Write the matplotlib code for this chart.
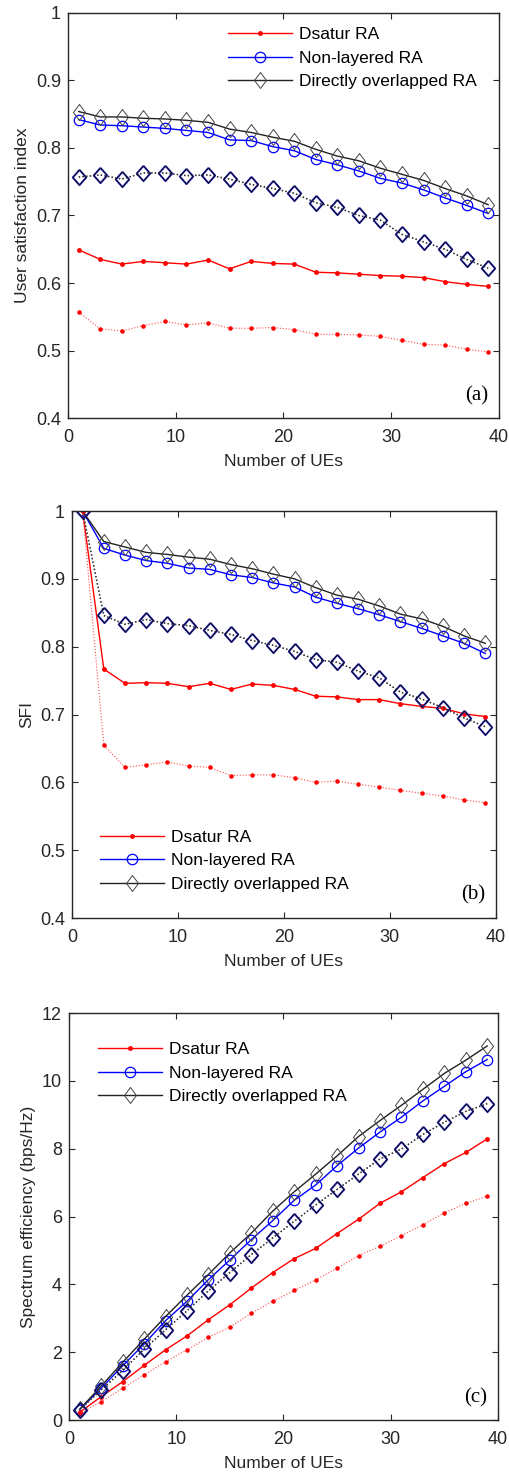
import matplotlib
matplotlib.use("Agg")
import matplotlib.pyplot as plt

plt.rcParams['font.family'] = ['Liberation Sans', 'DejaVu Sans']

ues = list(range(1, 40, 2))

# (a) user satisfaction index
usi_dsatur = [0.649, 0.635, 0.628, 0.632, 0.630, 0.628, 0.634, 0.621, 0.632, 0.629,
              0.628, 0.616, 0.615, 0.613, 0.611, 0.610, 0.608, 0.602, 0.598, 0.595]
usi_dsatur_dot = [0.557, 0.532, 0.529, 0.537, 0.543, 0.538, 0.541, 0.533, 0.533, 0.534,
                  0.531, 0.524, 0.524, 0.523, 0.521, 0.515, 0.509, 0.508, 0.502, 0.498]
usi_nonlayer = [0.842, 0.834, 0.833, 0.831, 0.829, 0.826, 0.823, 0.812, 0.811, 0.802,
                0.796, 0.783, 0.775, 0.766, 0.755, 0.748, 0.738, 0.726, 0.715, 0.703]
usi_overlap = [0.854, 0.846, 0.846, 0.844, 0.843, 0.841, 0.838, 0.828, 0.823, 0.816,
               0.810, 0.798, 0.788, 0.781, 0.770, 0.761, 0.752, 0.740, 0.729, 0.716]
usi_dot = [0.757, 0.760, 0.754, 0.763, 0.763, 0.759, 0.760, 0.754, 0.746, 0.740,
           0.733, 0.719, 0.712, 0.700, 0.693, 0.672, 0.661, 0.650, 0.635, 0.622]

# (b) SFI
sfi_dsatur = [1.0, 0.767, 0.746, 0.747, 0.746, 0.741, 0.746, 0.737, 0.745, 0.743,
              0.737, 0.727, 0.726, 0.722, 0.722, 0.716, 0.712, 0.709, 0.701, 0.697]
sfi_dsatur_dot = [1.0, 0.655, 0.622, 0.626, 0.630, 0.624, 0.622, 0.610, 0.611, 0.611,
                  0.607, 0.600, 0.602, 0.597, 0.593, 0.588, 0.584, 0.580, 0.574, 0.570]
sfi_nonlayer = [1.0, 0.945, 0.935, 0.927, 0.923, 0.916, 0.914, 0.906, 0.902, 0.894,
                0.888, 0.873, 0.864, 0.856, 0.847, 0.837, 0.827, 0.816, 0.805, 0.790]
sfi_overlap = [1.0, 0.955, 0.947, 0.939, 0.936, 0.932, 0.929, 0.921, 0.915, 0.907,
               0.900, 0.887, 0.876, 0.870, 0.860, 0.848, 0.841, 0.830, 0.816, 0.805]
sfi_dot = [1.0, 0.846, 0.833, 0.840, 0.834, 0.831, 0.824, 0.818, 0.809, 0.802,
           0.793, 0.781, 0.777, 0.764, 0.754, 0.733, 0.723, 0.710, 0.695, 0.682]

# (c) spectrum efficiency
se_dsatur = [0.23, 0.69, 1.13, 1.61, 2.07, 2.48, 2.96, 3.40, 3.89, 4.35,
             4.76, 5.06, 5.50, 5.92, 6.39, 6.73, 7.15, 7.56, 7.89, 8.29]
se_dsatur_dot = [0.20, 0.54, 0.94, 1.33, 1.72, 2.07, 2.44, 2.74, 3.15, 3.50,
                 3.82, 4.13, 4.48, 4.85, 5.12, 5.44, 5.76, 6.11, 6.39, 6.60]
se_nonlayer = [0.31, 0.94, 1.60, 2.24, 2.93, 3.50, 4.14, 4.72, 5.32, 5.88,
               6.48, 6.93, 7.50, 8.02, 8.49, 8.93, 9.41, 9.84, 10.27, 10.63]
se_overlap = [0.32, 1.00, 1.70, 2.38, 3.05, 3.68, 4.29, 4.93, 5.51, 6.16,
              6.73, 7.25, 7.79, 8.36, 8.83, 9.28, 9.75, 10.22, 10.61, 11.03]
se_dot = [0.30, 0.89, 1.46, 2.09, 2.66, 3.22, 3.81, 4.35, 4.88, 5.37,
          5.86, 6.34, 6.80, 7.25, 7.70, 7.99, 8.42, 8.78, 9.10, 9.33]

labels = ['Dsatur RA', 'Non-layered RA', 'Directly overlapped RA']
GREY = '#262626'
FS = 12.5
# MATLAB-like diamonds, wider than matplotlib's thin 'd'
DIAMOND = [(0, 1), (0.75, 0), (0, -1), (-0.75, 0), (0, 1)]
DIAMOND_WIDE = [(0, 1), (0.88, 0), (0, -1), (-0.88, 0), (0, 1)]


def draw_panel(ax, dsatur, dsatur_dot, nonlayer, overlap, dot):
    ax.plot(ues, dsatur, color='red', lw=1.0, marker='.', ms=5, label=labels[0])
    ax.plot(ues, nonlayer, color='blue', lw=1.0, marker='o', ms=7.5,
            mfc='none', mew=0.9, label=labels[1])
    ax.plot(ues, overlap, color='#222222', lw=1.0, marker=DIAMOND, ms=11.5,
            mfc='none', mec='#444444', mew=0.7, label=labels[2])
    ax.plot(ues, dsatur_dot, color='#ff4a4a', lw=0.8, ls=':', marker='.', ms=4.5,
            mec='red', mfc='red')
    # the two dotted curves (non-layered / overlapped) lie on top of each other
    ax.plot(ues, dot, color='#555555', lw=1.0, ls=':', marker=DIAMOND_WIDE, ms=11,
            mfc='none', mec='#2a2aff', mew=1.4)
    ax.plot(ues, dot, color='#333333', lw=1.0, ls=':', marker=DIAMOND_WIDE, ms=11,
            mfc='none', mec='#111111', mew=0.8)


def style_axes(ax, ylim, yticks, ylabel, tag):
    ax.set_xlim(0, 40)
    ax.set_xticks([0, 10, 20, 30, 40])
    ax.set_ylim(*ylim)
    ax.set_yticks(yticks)
    ax.set_yticklabels([f'{t:g}' for t in yticks])
    ax.tick_params(direction='in', top=True, right=True, length=4,
                   labelsize=13, colors=GREY, width=0.8)
    ax.tick_params(axis='x', pad=8)
    ax.tick_params(axis='y', pad=5)
    for s in ax.spines.values():
        s.set_color(GREY)
        s.set_linewidth(1.0)
    ax.set_xlabel('Number of UEs', fontsize=FS, color=GREY, labelpad=6)
    ax.set_ylabel(ylabel, fontsize=FS, color=GREY, labelpad=4)
    ax.text(0.975, 0.032, tag, transform=ax.transAxes, ha='right', va='bottom',
            fontsize=15, family='Liberation Serif', color='black')


def add_legend(ax, loc, anchor):
    ax.legend(loc=loc, bbox_to_anchor=anchor, frameon=False, fontsize=FS,
              handlelength=3.7, borderaxespad=0, labelspacing=0.48,
              handletextpad=0.4)


fig = plt.figure(figsize=(5.10, 14.74), dpi=100)

ax1 = fig.add_axes([0.1333, 0.7164, 0.845, 0.2748])
draw_panel(ax1, usi_dsatur, usi_dsatur_dot, usi_nonlayer, usi_overlap, usi_dot)
style_axes(ax1, (0.4, 1.0), [0.4, 0.5, 0.6, 0.7, 0.8, 0.9, 1.0],
           'User satisfaction index', '(a)')
add_legend(ax1, 'upper right', (0.965, 0.982))

ax2 = fig.add_axes([0.1412, 0.3772, 0.831, 0.2761])
draw_panel(ax2, sfi_dsatur, sfi_dsatur_dot, sfi_nonlayer, sfi_overlap, sfi_dot)
style_axes(ax2, (0.4, 1.0), [0.4, 0.5, 0.6, 0.7, 0.8, 0.9, 1.0], 'SFI', '(b)')
add_legend(ax2, 'lower left', (0.05, 0.047))

ax3 = fig.add_axes([0.1353, 0.0366, 0.841, 0.2761])
draw_panel(ax3, se_dsatur, se_dsatur_dot, se_nonlayer, se_overlap, se_dot)
style_axes(ax3, (0, 12), [0, 2, 4, 6, 8, 10, 12],
           'Spectrum efficiency (bps/Hz)', '(c)')
add_legend(ax3, 'upper left', (0.051, 0.946))

fig.savefig('out.png', dpi=100)
plt.close(fig)
